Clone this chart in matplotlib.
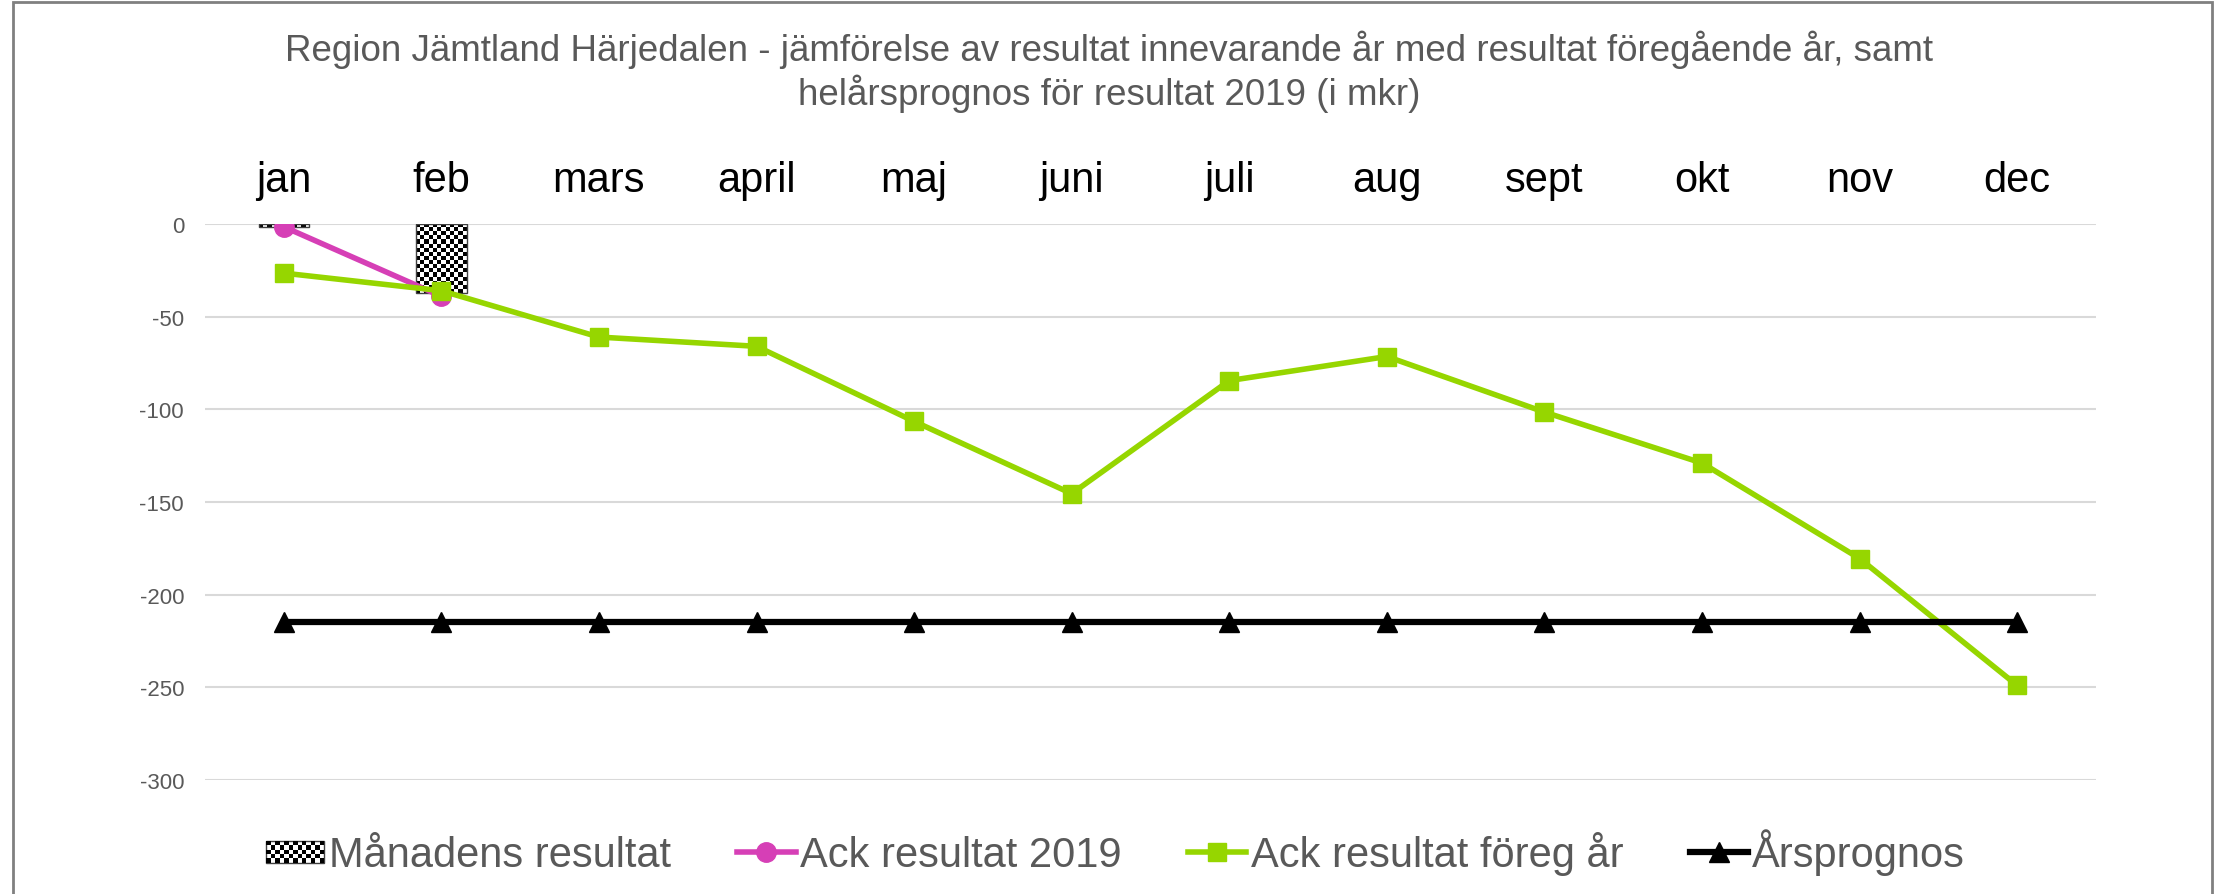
import matplotlib.pyplot as plt
from matplotlib.patches import Rectangle
from matplotlib.legend_handler import HandlerBase
import numpy as np

plt.rcParams['font.family'] = ['Liberation Sans', 'DejaVu Sans']
plt.rcParams['axes.unicode_minus'] = False

months = ["jan", "feb", "mars", "april", "maj", "juni", "juli", "aug", "sept", "okt", "nov", "dec"]
manadens_resultat = [-1.5, -37.5]
ack_resultat_2019 = [-1.5, -39]
ack_foreg_ar = [-26.5, -36, -61, -66, -106.5, -145.5, -84.5, -71.5, -101.5, -129, -180.5, -249]
arsprognos = [-215, -215, -215, -215, -215, -215, -215, -215, -215, -215, -215, -215]

title = ("Region Jämtland Härjedalen - jämförelse av resultat innevarande år med resultat föregående år, samt\n"
         "helårsprognos för resultat 2019 (i mkr)")
gray_text = "#595959"


class CheckerHandler(HandlerBase):
    # legend key drawn as a small black/white checkerboard
    def create_artists(self, legend, orig_handle, xdescent, ydescent, width, height, fontsize, trans):
        nx, ny = 13, 5
        h = height * 0.75
        y0 = -ydescent + (height - h) / 2
        x0 = -xdescent
        cw, ch = width / nx, h / ny
        arts = [Rectangle((x0, y0), width, h, facecolor="white", edgecolor="#404040", lw=1, transform=trans)]
        for i in range(nx):
            for j in range(ny):
                if (i + j) % 2 == 0:
                    arts.append(Rectangle((x0 + i * cw, y0 + j * ch), cw, ch, facecolor="black",
                                          edgecolor="none", transform=trans))
        return arts


fig = plt.figure(figsize=(22.18, 8.95), dpi=100)
ax = fig.add_axes([0.0924, 0.1274, 0.8526, 0.6212])

x = np.arange(len(months))

bars = ax.bar(x[:len(manadens_resultat)], manadens_resultat, width=0.32, facecolor="none",
              edgecolor="#404040", lw=1, zorder=3)
for b in bars:
    bx, by, bw, bh = b.get_x(), b.get_y(), b.get_width(), b.get_height()
    ny = max(1, int(round(abs(bh) / 300 * 556 / 4)))
    checker = np.indices((ny, 12)).sum(axis=0) % 2
    im = ax.imshow(checker, cmap="gray", extent=(bx, bx + bw, by, by + bh), aspect="auto",
                   interpolation="nearest", zorder=2)
    im.set_clip_path(b)

l1, = ax.plot(x[:len(ack_resultat_2019)], ack_resultat_2019, color="#D63FB6", lw=4,
              marker="o", markersize=14, zorder=4)
l2, = ax.plot(x, ack_foreg_ar, color="#96D600", lw=4, marker="s", markersize=13, zorder=5)
l3, = ax.plot(x, arsprognos, color="black", lw=4.5, marker="^", markersize=15, zorder=6)

ax.set_xlim(-0.5, 11.5)
ax.set_ylim(-300, 0)
ax.set_yticks(np.arange(-300, 1, 50))
ax.set_xticks(x)
ax.set_xticklabels(months)
ax.xaxis.tick_top()
ax.tick_params(axis="x", length=0, labelsize=30, pad=17, colors="black")
ax.tick_params(axis="y", length=0, labelsize=16, pad=15, labelcolor=gray_text)
ax.yaxis.grid(True, color="#D9D9D9", lw=1.5)
ax.set_axisbelow(True)
for s in ax.spines.values():
    s.set_visible(False)

fig.text(0.5, 1 - 72 / 895, title, ha="center", va="center", fontsize=26.5, color=gray_text,
         linespacing=1.18)

fig.legend([bars, l1, l2, l3], ["Månadens resultat", "Ack resultat 2019", "Ack resultat föreg år", "Årsprognos"],
           handler_map={type(bars): CheckerHandler()},
           loc="center", bbox_to_anchor=(0.503, 1 - 853 / 895), ncol=4, frameon=False,
           fontsize=30, labelcolor=gray_text, handlelength=1.4, handletextpad=0.1, columnspacing=1.6)

fig.add_artist(Rectangle((13 / 2218, -0.05), (2212 - 13) / 2218, 1.05 - 3 / 895, transform=fig.transFigure,
                         fill=False, edgecolor="#808080", lw=2))

fig.savefig("out.png", dpi=100)
